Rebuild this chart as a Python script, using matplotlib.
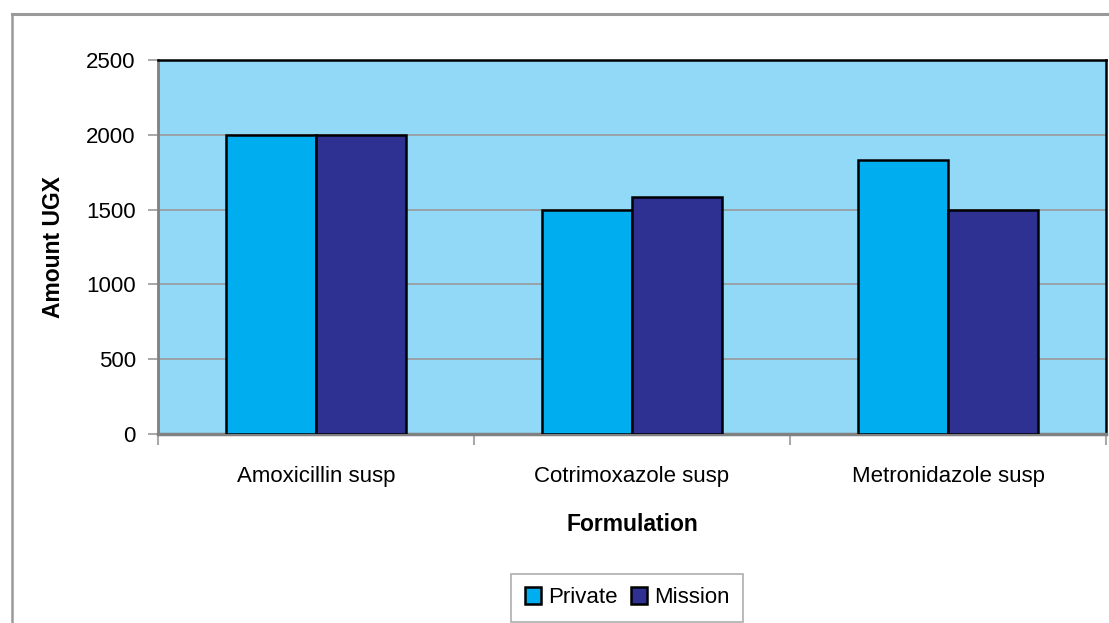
import matplotlib.pyplot as plt
import numpy as np
from matplotlib.lines import Line2D

plt.rcParams['font.family'] = ['Liberation Sans', 'DejaVu Sans']

formulations = ["Amoxicillin susp", "Cotrimoxazole susp", "Metronidazole susp"]
private = [2000, 1500, 1833]
mission = [2000, 1583, 1500]
y_ticks = [0, 500, 1000, 1500, 2000, 2500]

fig = plt.figure(figsize=(11.09, 6.23), dpi=100)
W, H = 1109, 623

# outer chart frame (only top and left edges fall inside the image)
fig.add_artist(Line2D([12 / W, 1], [1 - 14 / H, 1 - 14 / H], color="#999999", lw=2.2))
fig.add_artist(Line2D([12 / W, 12 / W], [0, 1 - 14 / H], color="#999999", lw=1.8))

ax = fig.add_axes([158 / W, 1 - 434 / H, 948 / W, 374 / H])
ax.set_facecolor("#91D9F7")

x = np.arange(len(formulations))
bw = 1 / 3.5
ax.bar(x - bw / 2, private, bw, color="#00ADEF", edgecolor="black", lw=1.8, label="Private", zorder=3)
ax.bar(x + bw / 2, mission, bw, color="#2E3192", edgecolor="black", lw=1.8, label="Mission", zorder=3)

ax.set_xlim(-0.5, 2.5)
ax.set_ylim(0, 2500)
ax.set_yticks(y_ticks)
ax.yaxis.grid(True, color="#999999", lw=1.2, zorder=0)
ax.set_axisbelow(True)

# category labels between boundary ticks
ax.set_xticks([-0.5, 0.5, 1.5, 2.5])
ax.set_xticklabels([])
ax.set_xticks(x, minor=True)
ax.set_xticklabels(formulations, minor=True, fontsize=16)
ax.tick_params(axis="x", which="minor", length=0, pad=23)
ax.tick_params(axis="x", which="major", length=8, color="#aaaaaa", width=1.5, direction="out")
ax.tick_params(axis="y", length=7, color="#999999", width=1.2, labelsize=16, pad=9)

for s in ["top", "right"]:
    ax.spines[s].set_color("black")
    ax.spines[s].set_linewidth(1.8)
ax.spines["left"].set_color("#808080")
ax.spines["left"].set_linewidth(2)
ax.spines["bottom"].set_color("#808080")
ax.spines["bottom"].set_linewidth(2.5)

ax.set_ylabel("Amount UGX", fontsize=16.5, fontweight="bold")
ax.yaxis.set_label_coords(-0.098, 0.5)
ax.set_xlabel("Formulation", fontsize=16.5, fontweight="bold")
ax.xaxis.set_label_coords(0.5, -0.212)

leg = ax.legend(loc="upper center", bbox_to_anchor=(627 / W, 1 - 574 / H), bbox_transform=fig.transFigure,
                ncol=2, frameon=True, fancybox=False, fontsize=16, handlelength=0.75, handleheight=0.75,
                handletextpad=0.3, columnspacing=0.6, borderpad=0.6, borderaxespad=0)
leg.get_frame().set_edgecolor("#999999")
leg.get_frame().set_linewidth(1.2)

fig.savefig("out.png", dpi=100)
